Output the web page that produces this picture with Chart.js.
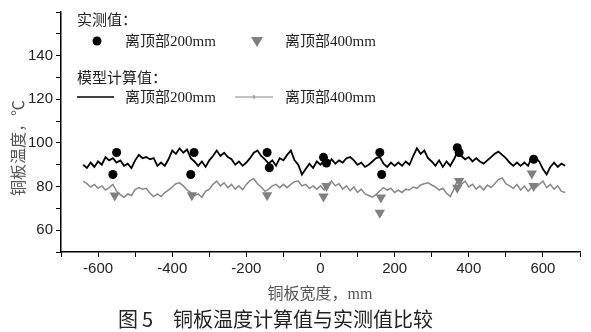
<!DOCTYPE html>
<html>
<head>
<meta charset="utf-8">
<script src="https://cdn.jsdelivr.net/npm/chart.js@4/dist/chart.umd.min.js"></script>
<style>
  html, body { margin: 0; padding: 0; background: #fff; }
  #wrap { width: 591px; height: 332px; position: relative; }
</style>
</head>
<body>
<div id="wrap"><canvas id="chart" width="591" height="332"></canvas></div>
<script>
// model curve positions, mm
var modelX = [
  -640, -630, -620, -610, -600, -590, -580, -570, -560, -550,
  -540, -530, -520, -510, -500, -490, -480, -470, -460, -450,
  -440, -430, -420, -410, -400, -390, -380, -370, -360, -350,
  -340, -330, -320, -310, -300, -290, -280, -270, -260, -250,
  -240, -230, -220, -210, -200, -190, -180, -170, -160, -150,
  -140, -130, -120, -110, -100, -90, -80, -70, -60, -50,
  -40, -30, -20, -10, 0, 10, 20, 30, 40, 50,
  60, 70, 80, 90, 100, 110, 120, 130, 140, 150,
  160, 170, 180, 190, 200, 210, 220, 230, 240, 250,
  260, 270, 280, 290, 300, 310, 320, 330, 340, 350,
  360, 370, 380, 390, 400, 410, 420, 430, 440, 450,
  460, 470, 480, 490, 500, 510, 520, 530, 540, 550,
  560, 570, 580, 590, 600, 610, 620, 630, 640, 650,
  660
];
// model, 200 mm below top
var model200 = [
  90, 88.5, 91, 89, 91.5, 90, 93.5, 92, 93, 91,
  92, 89.5, 90.5, 88.5, 92, 94.5, 93, 93.5, 92.5, 93,
  89.5, 91, 89.5, 92.5, 96.5, 95, 97.5, 95.5, 97, 93,
  91.5, 89.5, 91.5, 89, 92, 94, 96.5, 94, 95.5, 93.5,
  92.5, 90, 91.5, 89.5, 91, 93, 95.5, 96.5, 94, 92.5,
  90.5, 92, 89.5, 93, 92, 94.5, 96.5, 92, 90, 85.5,
  88, 90.5, 88.5, 91.5, 90, 92, 90, 92.5, 90.5, 92,
  91, 93, 93.5, 92, 90, 91, 89, 90, 91.5, 93,
  93.5, 90.5, 89, 91, 89.5, 91, 89.5, 91.5, 90, 94,
  97.5, 95, 96.5, 93, 91.5, 89.5, 92, 89, 91.5, 89.5,
  92.5, 96, 94, 92.5, 93.5, 91.5, 93, 91.5, 90.5, 92,
  93.5, 95, 96, 94.5, 93, 91, 89.5, 91, 89.5, 91,
  89.5, 93.5, 93, 91.5, 88, 85.5, 89, 91, 89, 90.5,
  89.5
];
// model, 400 mm below top
var model400 = [
  82.5, 81.3, 79.8, 81.0, 79.2, 80.3, 78.4, 79.5, 81.0, 77.8,
  76.3, 75.1, 76.6, 75.9, 78.6, 79.5, 78.8, 79.2, 76.9, 75.4,
  76.6, 75.4, 77.2, 78.4, 79.8, 81.3, 81.7, 80.3, 78.4, 77.2,
  75.9, 76.6, 75.1, 77.8, 78.8, 81.0, 82.5, 80.3, 81.7, 79.5,
  81.0, 78.8, 80.3, 78.6, 81.0, 82.8, 83.6, 81.3, 79.8, 77.8,
  78.8, 80.3, 81.0, 79.5, 81.0, 79.5, 81.0, 82.2, 82.5, 80.3,
  81.0, 79.1, 80.3, 78.8, 80.3, 78.4, 81.0, 82.5, 80.3, 81.3,
  78.8, 80.3, 78.1, 79.8, 77.3, 78.8, 76.6, 75.9, 75.1, 76.3,
  78.1, 79.5, 78.4, 79.2, 77.3, 78.4, 77.3, 78.8, 78.4, 79.8,
  79.2, 80.7, 81.3, 81.7, 80.7, 79.8, 78.4, 79.2, 76.9, 75.4,
  78.8, 83.2, 81.0, 82.5, 79.8, 81.0, 78.8, 80.3, 78.4, 80.7,
  79.5, 81.3, 83.2, 83.9, 81.3, 80.3, 79.2, 81.0, 78.4, 80.3,
  77.8, 79.8, 79.5, 81.0, 82.5, 79.5, 81.0, 78.8, 80.3, 77.8,
  77.3
];

// measured, 200 mm below top
var meas200X = [-550, -560, -341, -350, -144, -138, 8, 16, 160, 165, 369, 374, 575];
var meas200Y = [95.6, 85.5, 95.6, 85.5, 95.6, 88.6, 93.4, 90.8, 95.6, 85.5, 97.8, 95.6, 92.5];
// measured, 400 mm below top
var meas400X = [-555, -347, -144, 8, 16, 163, 160, 374, 369, 570, 575];
var meas400Y = [75.9, 76, 76, 75.4, 80.3, 75, 68, 82.5, 79.4, 86, 80.3];

var xTickLabels = [-600, -400, -200, 0, 200, 400, 600];
var yTickLabels = [60, 80, 100, 120, 140];

function pts(xs, ys) {
  return xs.map(function (x, i) { return { x: x, y: ys[i] }; });
}

var cjk = '"Liberation Serif", "Noto Sans CJK SC"';

var textPlugin = {
  id: "texts",
  afterDraw: function (chart) {
    var c = chart.ctx;
    c.save();
    c.textBaseline = "middle";

    // legend block
    c.fillStyle = "#222";
    c.font = "15px " + cjk;
    c.textAlign = "left";
    c.fillText("实测值：", 77, 21);
    c.fillText("离顶部200mm", 125, 42);
    c.fillText("离顶部400mm", 285, 42);
    c.fillText("模型计算值：", 77, 79);
    c.fillText("离顶部200mm", 125, 98);
    c.fillText("离顶部400mm", 285, 98);

    c.fillStyle = "#000";
    c.beginPath();
    c.arc(97, 41, 4.5, 0, Math.PI * 2);
    c.fill();

    c.fillStyle = "#808080";
    c.beginPath();
    c.moveTo(251, 37);
    c.lineTo(263, 37);
    c.lineTo(257, 47);
    c.closePath();
    c.fill();

    c.strokeStyle = "#000";
    c.lineWidth = 1.5;
    c.beginPath();
    c.moveTo(77, 97);
    c.lineTo(114, 97);
    c.stroke();

    c.strokeStyle = "#888";
    c.lineWidth = 1.2;
    c.beginPath();
    c.moveTo(235, 97);
    c.lineTo(273, 97);
    c.moveTo(254, 95);
    c.lineTo(254, 99);
    c.stroke();

    // axis titles
    c.fillStyle = "#555";
    c.font = "16px " + cjk;
    c.textAlign = "center";
    c.fillText("铜板宽度，mm", 320, 295);
    c.save();
    c.translate(20, 148);
    c.rotate(-Math.PI / 2);
    c.fillText("铜板温度，℃", 0, 0);
    c.restore();

    // caption
    c.fillStyle = "#222";
    c.font = '20px "Noto Sans CJK SC"';
    c.textAlign = "left";
    c.fillText("图", 118, 319);
    c.fillText("5", 142, 319);
    c.fillText("铜板温度计算值与实测值比较", 173, 319);
    c.restore();
  },
};

var ctx = document.getElementById("chart").getContext("2d");

new Chart(ctx, {
  type: "scatter",
  data: {
    datasets: [
      {
        label: "实测值 离顶部200mm",
        data: pts(meas200X, meas200Y),
        pointStyle: "circle",
        pointRadius: 4.5,
        backgroundColor: "#000",
        borderColor: "#000",
        borderWidth: 0,
      },
      {
        label: "实测值 离顶部400mm",
        data: pts(meas400X, meas400Y),
        pointStyle: "triangle",
        rotation: 180,
        pointRadius: 6,
        backgroundColor: "#808080",
        borderColor: "#808080",
        borderWidth: 0,
      },
      {
        label: "模型计算值 离顶部200mm",
        data: pts(modelX, model200),
        showLine: true,
        pointRadius: 0,
        borderColor: "#000",
        borderWidth: 1.8,
        tension: 0,
      },
      {
        label: "模型计算值 离顶部400mm",
        data: pts(modelX, model400),
        showLine: true,
        pointRadius: 0,
        borderColor: "#888",
        borderWidth: 1.5,
        tension: 0,
      },
    ],
  },
  options: {
    responsive: false,
    animation: false,
    layout: {
      padding: { top: 3, right: 11, left: 0, bottom: 0 },
    },
    plugins: {
      legend: { display: false },
      tooltip: { enabled: false },
    },
    scales: {
      x: {
        type: "linear",
        min: -700,
        max: 700,
        afterFit: function (scale) { scale.height = 80; },
        border: { display: true, color: "#000", width: 1.5 },
        grid: {
          display: true,
          drawOnChartArea: false,
          drawTicks: true,
          tickLength: 5,
          tickColor: "#000",
        },
        ticks: {
          stepSize: 100,
          autoSkip: false,
          maxRotation: 0,
          padding: 3,
          color: "#222",
          font: { size: 15, family: "Liberation Sans" },
          callback: function (v) {
            return xTickLabels.indexOf(v) > -1 ? String(v) : "";
          },
        },
      },
      y: {
        min: 50,
        max: 160,
        afterFit: function (scale) { scale.width = 61; },
        border: { display: true, color: "#000", width: 1.5 },
        grid: {
          display: true,
          drawOnChartArea: false,
          drawTicks: true,
          tickLength: 5,
          tickColor: "#000",
        },
        ticks: {
          stepSize: 10,
          autoSkip: false,
          padding: 3,
          color: "#222",
          font: { size: 15, family: "Liberation Sans" },
          callback: function (v) {
            return yTickLabels.indexOf(v) > -1 ? String(v) : "";
          },
        },
      },
    },
  },
  plugins: [textPlugin],
});
</script>
</body>
</html>
